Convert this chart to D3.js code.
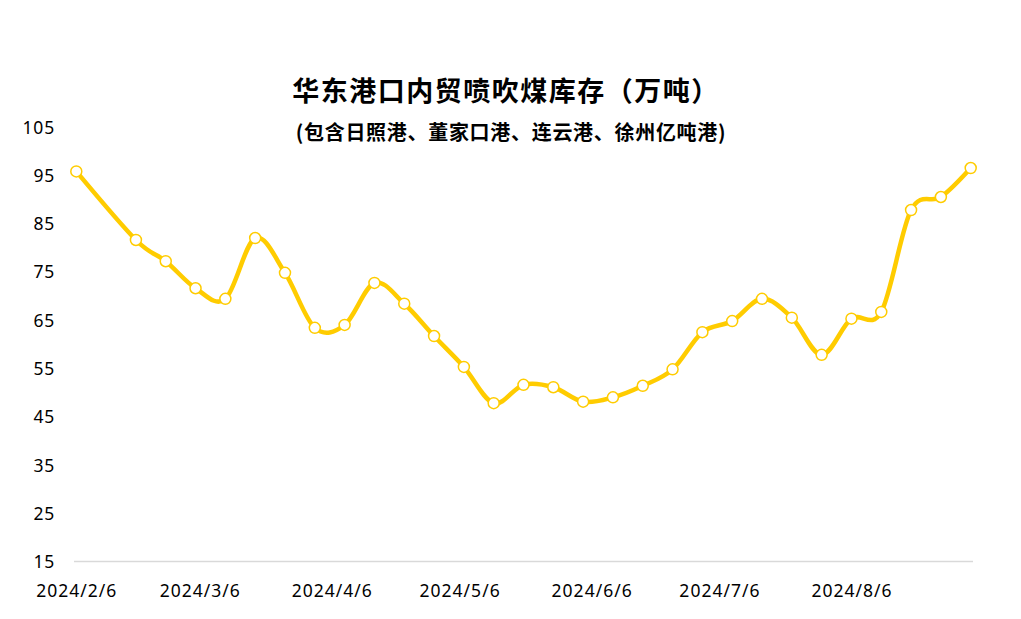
<!DOCTYPE html>
<html>
<head>
<meta charset="utf-8">
<script src="https://cdn.jsdelivr.net/npm/d3@7"></script>
<style>
  html, body { margin: 0; padding: 0; background: #fff; }
  svg { display: block; }
</style>
</head>
<body>
<svg id="chart" width="1021" height="619"></svg>
<script>
const titleText = "华东港口内贸喷吹煤库存（万吨）";
const subtitleText = "(包含日照港、董家口港、连云港、徐州亿吨港)";

const dates = [
  "2024-02-06","2024-02-20","2024-02-27","2024-03-05","2024-03-12","2024-03-19","2024-03-26",
  "2024-04-02","2024-04-09","2024-04-16","2024-04-23","2024-04-30","2024-05-07","2024-05-14",
  "2024-05-21","2024-05-28","2024-06-04","2024-06-11","2024-06-18","2024-06-25","2024-07-02",
  "2024-07-09","2024-07-16","2024-07-23","2024-07-30","2024-08-06","2024-08-13","2024-08-20",
  "2024-08-27","2024-09-03"
];
const values = [
  95.8, 81.6, 77.2, 71.6, 69.4, 82.0, 74.8,
  63.4, 64.0, 72.7, 68.4, 61.7, 55.3, 47.8,
  51.6, 51.1, 48.1, 49.0, 51.4, 54.8, 62.5,
  64.8, 69.4, 65.5, 57.8, 65.3, 66.7, 87.8,
  90.5, 96.5
];
const yTicks = [15, 25, 35, 45, 55, 65, 75, 85, 95, 105];
const xTickLabels = ["2024/2/6","2024/3/6","2024/4/6","2024/5/6","2024/6/6","2024/7/6","2024/8/6"];

const parse = d3.timeParse("%Y-%m-%d");
const parseTick = d3.timeParse("%Y/%m/%d");
const data = dates.map((d, i) => ({ date: parse(d), value: values[i] }));

const svg = d3.select("#chart");
const fontNum = "'Noto Sans', 'Open Sans', sans-serif";
const fontCJK = "'Noto Sans CJK SC', sans-serif";

const x = d3.scaleTime()
  .domain([parse("2024-02-06"), parse("2024-09-03")])
  .range([76.3, 970.7]);
const y = d3.scaleLinear().domain([15, 105]).range([561.5, 127]);

// title
svg.append("text")
  .attr("x", 506).attr("y", 101)
  .attr("text-anchor", "middle")
  .attr("font-family", fontCJK)
  .attr("font-weight", "bold")
  .attr("font-size", 27)
  .attr("letter-spacing", 1.5)
  .attr("fill", "#000")
  .text(titleText);
svg.append("text")
  .attr("x", 511).attr("y", 140)
  .attr("text-anchor", "middle")
  .attr("font-family", fontCJK)
  .attr("font-weight", "bold")
  .attr("font-size", 20)
  .attr("letter-spacing", 0.7)
  .attr("fill", "#000")
  .text(subtitleText);

// y axis labels (no line)
const yAxis = d3.axisLeft(y).tickValues(yTicks).tickSize(0).tickPadding(0);
const gy = svg.append("g").attr("transform", "translate(55,0)").call(yAxis);
gy.select(".domain").remove();
gy.selectAll("text")
  .attr("font-family", fontNum)
  .attr("font-size", 17.5)
  .attr("letter-spacing", 0.8)
  .attr("fill", "#000")
  .attr("dy", "0.35em");

// x axis line
svg.append("line")
  .attr("x1", 74).attr("x2", 973)
  .attr("y1", y(15)).attr("y2", y(15))
  .attr("stroke", "#d9d9d9").attr("stroke-width", 1.5);

const xAxis = d3.axisBottom(x)
  .tickValues(xTickLabels.map(t => parseTick(t)))
  .tickFormat((d, i) => xTickLabels[i])
  .tickSize(0).tickPadding(0);
const gx = svg.append("g").attr("transform", `translate(0,${y(15) + 20})`).call(xAxis);
gx.select(".domain").remove();
gx.selectAll("text")
  .attr("font-family", fontNum)
  .attr("font-size", 17.5)
  .attr("letter-spacing", 1)
  .attr("fill", "#000")
  .attr("dy", "0.9em");

// line
const lineGen = d3.line()
  .x(d => x(d.date))
  .y(d => y(d.value))
  .curve(d3.curveCardinal.tension(0));
svg.append("path")
  .datum(data)
  .attr("d", lineGen)
  .attr("fill", "none")
  .attr("stroke", "#FFCC00")
  .attr("stroke-width", 4.5)
  .attr("stroke-linejoin", "round");

svg.append("g").selectAll("circle")
  .data(data)
  .join("circle")
  .attr("cx", d => x(d.date))
  .attr("cy", d => y(d.value))
  .attr("r", 5.5)
  .attr("fill", "#fff")
  .attr("stroke", "#FFCC00")
  .attr("stroke-width", 1.5);
</script>
</body>
</html>
